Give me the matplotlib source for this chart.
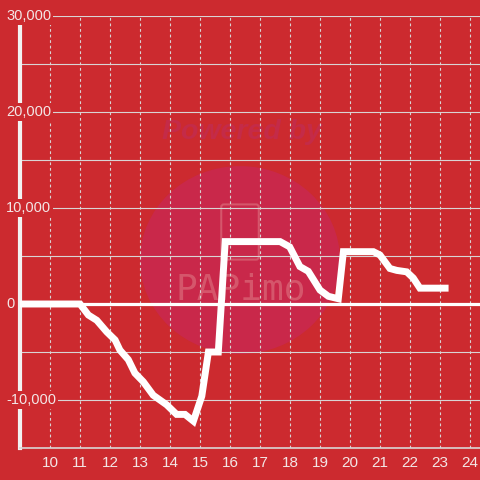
import matplotlib.pyplot as plt
from matplotlib.patches import Circle, FancyBboxPatch

# datos
hours = [9.0, 11.0, 11.28, 11.56, 11.89, 12.17, 12.33, 12.61, 12.83, 13.11, 13.44,
         13.89, 14.22, 14.5, 14.78, 15.06, 15.28, 15.61, 15.84, 17.67, 17.99, 18.33,
         18.61, 19.0, 19.28, 19.61, 19.78, 20.78, 21.0, 21.33, 21.56, 21.89, 22.11,
         22.33, 23.17]
profit = [0, 0, -1150, -1700, -2900, -3750, -4800, -5800, -7200, -8100, -9500,
          -10500, -11500, -11500, -12200, -9600, -5000, -5000, 6500, 6500, 5950, 3900,
          3400, 1450, 800, 550, 5450, 5450, 5100, 3700, 3500, 3350, 2700,
          1650, 1650]

x_ticks = list(range(10, 25))
y_labels = {30000: "30,000", 20000: "20,000", 10000: "10,000", 0: "0", -10000: "-10,000"}

bg = "#cc2a2f"
grid_col = "#d9d4d4"
txt_col = "#f3e6e6"
wm_col = "#d5566b"
font = ["Liberation Sans", "DejaVu Sans"]

# pixeles de la imagen -> fracción de los ejes
def ax_x(px):
    return (px - 20) / 460

def ax_y(py):
    return (448 - py) / 432

fig = plt.figure(figsize=(4.8, 4.8), dpi=100)
fig.patch.set_facecolor(bg)
ax = fig.add_axes([20/480, 32/480, 460/480, 432/480])
ax.set_facecolor(bg)
ax.set_xlim(9, 9 + 460/30)
ax.set_ylim(-15000, 30000)

# marca de agua
ax.add_patch(Circle((ax_x(240), ax_y(260)), 100/460, transform=ax.transAxes,
                    facecolor="#c9284a", edgecolor="none", zorder=0.5))
ax.text(ax_x(242), ax_y(132), "Powered by", transform=ax.transAxes, ha="center", va="center",
        fontsize=20.5, fontweight="bold", fontstyle="italic", color="#c42b48",
        family=font, zorder=0.6)
ax.add_patch(FancyBboxPatch((ax_x(224), ax_y(257)), 32/460, 50/432, transform=ax.transAxes,
                            boxstyle="round,pad=0.006", facecolor="none",
                            edgecolor=wm_col, lw=1.5, zorder=0.6))
ax.text(ax_x(241), ax_y(290), "PAPimo", transform=ax.transAxes, ha="center", va="center",
        fontsize=26, color=wm_col, family=["DejaVu Sans Mono"], zorder=0.6)

# rejilla
for v in range(-15000, 30001, 5000):
    if v == 0:
        ax.axhline(0, color="white", lw=2.3, zorder=1.5)
    else:
        ax.axhline(v, color=grid_col, lw=0.8, zorder=1)
for h in x_ticks:
    ax.axvline(h, color=grid_col, lw=0.8, ls=(0, (2.5, 2.5)), zorder=1)

ax.plot(hours, profit, color="white", lw=5, solid_joinstyle="miter", zorder=3)

# ejes
for s in ["top", "right"]:
    ax.spines[s].set_visible(False)
ax.spines["left"].set_color("#f2f2f2")
ax.spines["left"].set_linewidth(3)
ax.spines["bottom"].set_color(grid_col)
ax.spines["bottom"].set_linewidth(1.2)

ax.set_xticks(x_ticks)
ax.set_xticklabels([str(t) for t in x_ticks], fontsize=11, color=txt_col, family=font)
ax.tick_params(axis="x", length=0, pad=6)
ax.set_yticks([])

for v, lab in y_labels.items():
    ax.text(-14/460, v, lab, transform=ax.get_yaxis_transform(), ha="left", va="center",
            fontsize=10.5, color=txt_col, family=font, zorder=5, clip_on=False,
            bbox=dict(facecolor=bg, edgecolor="none", pad=1.5))

fig.savefig("out.png", dpi=100, facecolor=bg)
